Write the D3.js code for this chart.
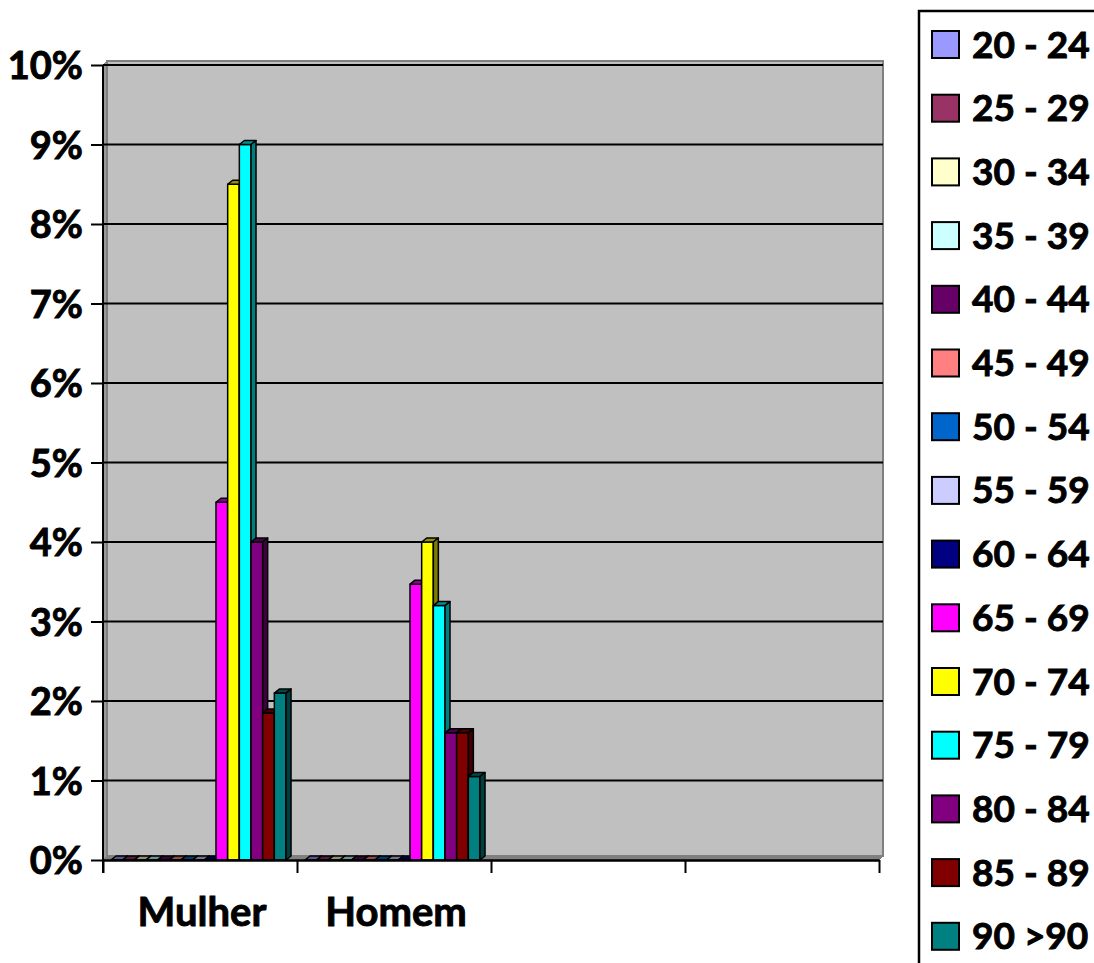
<!DOCTYPE html>
<html>
    <head>
        <meta charset="utf-8" />
        <title>Faixa etaria por sexo</title>
        <style>
          body { margin: 0; background: #fff; }
          text { font-family: Lato, "Open Sans", sans-serif; font-weight: bold; fill: #000;
                 stroke: #000; stroke-width: 0.9px; }
        </style>
        <script src="https://d3js.org/d3.v7.min.js"></script>
    </head>

    <body>
      <script>

        // data (percent)
        var categories = ["Mulher", "Homem", "", ""];
        var ageGroups = ["20 - 24", "25 - 29", "30 - 34", "35 - 39", "40 - 44",
                         "45 - 49", "50 - 54", "55 - 59", "60 - 64", "65 - 69",
                         "70 - 74", "75 - 79", "80 - 84", "85 - 89", "90 >90"];
        var mulher = [0, 0, 0, 0, 0, 0, 0, 0, 0, 4.5, 8.5, 9.0, 4.0, 1.85, 2.1];
        var homem  = [0, 0, 0, 0, 0, 0, 0, 0, 0, 3.47, 4.0, 3.2, 1.6, 1.6, 1.05];
        var colors = ["#9999FF", "#993366", "#FFFFCC", "#CCFFFF", "#660066",
                      "#FF8080", "#0066CC", "#CCCCFF", "#000080", "#FF00FF",
                      "#FFFF00", "#00FFFF", "#800080", "#800000", "#008080"];
        var yTicks = [0, 1, 2, 3, 4, 5, 6, 7, 8, 9, 10];

        var seriesByCategory = [mulher, homem, [], []];

        var canvas = d3.select("body").append("svg")
            .attr("width", 1094)
            .attr("height", 963);

        // scales
        var y = d3.scaleLinear().domain([0, 10]).range([860, 65]);
        var x = d3.scaleBand().domain(d3.range(categories.length)).range([103, 879]);
        var xEdge = d3.scaleLinear().domain([0, categories.length]).range([103, 879]);

        var depthX = 4, depthY = 4;   // 3d depth of the walls
        var barDX = 5, barDY = 4;     // 3d depth of the bars
        var bw = 11.67;               // bar width

        // walls
        canvas.append("polygon")
            .attr("points", [[103, y(10)], [103 + depthX, y(10) - depthY],
                             [103 + depthX, y(0) - depthY], [103, y(0)]].join(" "))
            .attr("fill", "#999")
            .attr("stroke", "#808080");
        canvas.append("rect")
            .attr("x", 103 + depthX)
            .attr("y", y(10) - depthY)
            .attr("width", 883 - 103 - depthX)
            .attr("height", y(0) - y(10))
            .attr("fill", "#C0C0C0")
            .attr("stroke", "#808080")
            .attr("stroke-width", 2);
        canvas.append("polygon")
            .attr("points", [[103, y(0)], [103 + depthX, y(0) - depthY],
                             [883, y(0) - depthY], [879, y(0)]].join(" "))
            .attr("fill", "#808080")
            .attr("stroke", "#808080");

        // gridlines
        canvas.append("g").selectAll("line")
            .data(yTicks.slice(1))
            .enter()
            .append("line")
            .attr("x1", 103)
            .attr("x2", 883)
            .attr("y1", function(d){ return y(d); })
            .attr("y2", function(d){ return y(d); })
            .attr("stroke", "#000")
            .attr("stroke-width", 2);

        // bars
        var bars = [];
        seriesByCategory.forEach(function(values, i){
            var start = x(i) + (x.bandwidth() - ageGroups.length * bw - barDX) / 2 + 1;
            values.forEach(function(v, j){
                bars.push({x0: start + j * bw, v: v, color: colors[j]});
            });
        });

        var barG = canvas.append("g").selectAll("g")
            .data(bars)
            .enter()
            .append("g")
            .attr("stroke", "#000")
            .attr("stroke-width", 1.5)
            .attr("stroke-linejoin", "round");

        barG.append("rect")
            .attr("x", function(d){ return d.x0; })
            .attr("y", function(d){ return y(d.v); })
            .attr("width", bw)
            .attr("height", function(d){ return y(0) - y(d.v); })
            .attr("fill", function(d){ return d.color; });

        barG.append("polygon")
            .attr("points", function(d){
                var t = y(d.v);
                return [[d.x0, t], [d.x0 + barDX, t - barDY],
                        [d.x0 + bw + barDX, t - barDY], [d.x0 + bw, t]].join(" ");
            })
            .attr("fill", function(d){ return d3.color(d.color).darker(1.6); });

        barG.append("polygon")
            .attr("points", function(d){
                var t = y(d.v), b = y(0);
                return [[d.x0 + bw, t], [d.x0 + bw + barDX, t - barDY],
                        [d.x0 + bw + barDX, b - barDY], [d.x0 + bw, b]].join(" ");
            })
            .attr("fill", function(d){ return d3.color(d.color).darker(2); });

        // y axis
        var yAxis = canvas.append("g")
            .attr("transform", "translate(103,0)")
            .call(d3.axisLeft(y).tickValues(yTicks)
                  .tickFormat(function(d){ return d + "%"; })
                  .tickSize(12).tickPadding(8));
        yAxis.select(".domain").attr("stroke-width", 2).attr("d", "M0," + y(10) + "V873");
        yAxis.selectAll(".tick line").attr("stroke-width", 2);
        yAxis.selectAll("text")
            .style("font-size", "38px")
            .style("font-family", "Lato, sans-serif")
            .style("font-weight", "bold")
            .attr("stroke", "#000")
            .attr("stroke-width", 0.9)
            .attr("dy", "0.36em");

        // x axis
        var xAxis = canvas.append("g")
            .attr("transform", "translate(0," + y(0) + ")")
            .call(d3.axisBottom(xEdge).tickValues(d3.range(categories.length + 1))
                  .tickFormat("").tickSize(13).tickSizeOuter(0));
        xAxis.select(".domain").attr("stroke-width", 2.5);
        xAxis.selectAll(".tick line").attr("stroke-width", 2);

        canvas.append("g").selectAll("text")
            .data(categories)
            .enter()
            .append("text")
            .attr("x", function(d, i){ return x(i) + x.bandwidth() / 2 + 2; })
            .attr("y", 926)
            .attr("text-anchor", "middle")
            .style("font-size", "40px")
            .text(function(d){ return d; });

        // legend
        canvas.append("rect")
            .attr("x", 919)
            .attr("y", 11)
            .attr("width", 300)
            .attr("height", 1000)
            .attr("fill", "#fff")
            .attr("stroke", "#000")
            .attr("stroke-width", 2.5);

        var legend = canvas.append("g").selectAll("g")
            .data(ageGroups)
            .enter()
            .append("g")
            .attr("transform", function(d, i){ return "translate(932," + (44.5 + i * 63.7) + ")"; });

        legend.append("rect")
            .attr("x", 0)
            .attr("y", -13.5)
            .attr("width", 27)
            .attr("height", 27)
            .attr("fill", function(d, i){ return colors[i]; })
            .attr("stroke", "#000")
            .attr("stroke-width", 2);

        legend.append("text")
            .attr("x", 40)
            .attr("y", 13)
            .style("font-size", "37px")
            .text(function(d){ return d; });

      </script>
    </body>
</html>
